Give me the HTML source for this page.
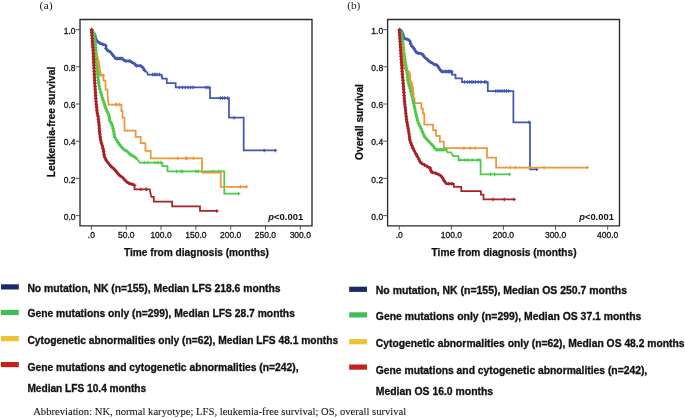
<!DOCTYPE html><html><head><meta charset="utf-8"><style>
html,body{margin:0;padding:0;background:#fff;width:685px;height:418px;overflow:hidden}
svg{display:block;will-change:transform}
.t{font-family:"Liberation Sans",sans-serif}
.s{font-family:"Liberation Serif",serif}
</style></head><body>
<svg width="685" height="418" viewBox="0 0 685 418">
<rect width="685" height="418" fill="#fff"/>
<path d="M80,225.8V19.45H312V225.8Z" fill="none" stroke="#2b2b2b" stroke-width="1.35"/>
<line x1="75.7" y1="215.60" x2="80" y2="215.60" stroke="#444" stroke-width="0.9"/>
<text class="t" x="75.6" y="219.70" font-size="8.5" text-anchor="end" fill="#111" stroke="#111" stroke-width="0.28">0.0</text>
<line x1="75.7" y1="178.40" x2="80" y2="178.40" stroke="#444" stroke-width="0.9"/>
<text class="t" x="75.6" y="182.50" font-size="8.5" text-anchor="end" fill="#111" stroke="#111" stroke-width="0.28">0.2</text>
<line x1="75.7" y1="141.20" x2="80" y2="141.20" stroke="#444" stroke-width="0.9"/>
<text class="t" x="75.6" y="145.30" font-size="8.5" text-anchor="end" fill="#111" stroke="#111" stroke-width="0.28">0.4</text>
<line x1="75.7" y1="104.00" x2="80" y2="104.00" stroke="#444" stroke-width="0.9"/>
<text class="t" x="75.6" y="108.10" font-size="8.5" text-anchor="end" fill="#111" stroke="#111" stroke-width="0.28">0.6</text>
<line x1="75.7" y1="66.80" x2="80" y2="66.80" stroke="#444" stroke-width="0.9"/>
<text class="t" x="75.6" y="70.90" font-size="8.5" text-anchor="end" fill="#111" stroke="#111" stroke-width="0.28">0.8</text>
<line x1="75.7" y1="29.60" x2="80" y2="29.60" stroke="#444" stroke-width="0.9"/>
<text class="t" x="75.6" y="33.70" font-size="8.5" text-anchor="end" fill="#111" stroke="#111" stroke-width="0.28">1.0</text>
<line x1="91.40" y1="225.8" x2="91.40" y2="229.8" stroke="#444" stroke-width="0.9"/>
<text class="t" x="91.40" y="238.0" font-size="8.5" text-anchor="middle" fill="#111" stroke="#111" stroke-width="0.28">.0</text>
<line x1="126.22" y1="225.8" x2="126.22" y2="229.8" stroke="#444" stroke-width="0.9"/>
<text class="t" x="126.22" y="238.0" font-size="8.5" text-anchor="middle" fill="#111" stroke="#111" stroke-width="0.28">50.0</text>
<line x1="161.03" y1="225.8" x2="161.03" y2="229.8" stroke="#444" stroke-width="0.9"/>
<text class="t" x="161.03" y="238.0" font-size="8.5" text-anchor="middle" fill="#111" stroke="#111" stroke-width="0.28">100.0</text>
<line x1="195.85" y1="225.8" x2="195.85" y2="229.8" stroke="#444" stroke-width="0.9"/>
<text class="t" x="195.85" y="238.0" font-size="8.5" text-anchor="middle" fill="#111" stroke="#111" stroke-width="0.28">150.0</text>
<line x1="230.66" y1="225.8" x2="230.66" y2="229.8" stroke="#444" stroke-width="0.9"/>
<text class="t" x="230.66" y="238.0" font-size="8.5" text-anchor="middle" fill="#111" stroke="#111" stroke-width="0.28">200.0</text>
<line x1="265.48" y1="225.8" x2="265.48" y2="229.8" stroke="#444" stroke-width="0.9"/>
<text class="t" x="265.48" y="238.0" font-size="8.5" text-anchor="middle" fill="#111" stroke="#111" stroke-width="0.28">250.0</text>
<line x1="300.29" y1="225.8" x2="300.29" y2="229.8" stroke="#444" stroke-width="0.9"/>
<text class="t" x="300.29" y="238.0" font-size="8.5" text-anchor="middle" fill="#111" stroke="#111" stroke-width="0.28">300.0</text>
<text class="t" x="196.50" y="256" font-size="10.15" font-weight="bold" text-anchor="middle" fill="#111" stroke="#111" stroke-width="0.25">Time from diagnosis (months)</text>
<text class="t" transform="translate(55.3,122) rotate(-90)" x="0" y="0" font-size="10.2" font-weight="bold" text-anchor="middle" fill="#111" stroke="#111" stroke-width="0.25">Leukemia-free survival</text>
<text class="s" x="39.6" y="8.5" font-size="11.2" fill="#222" textLength="13.2" lengthAdjust="spacingAndGlyphs">(a)</text>
<text class="t" x="268.3" y="220.4" font-size="9" font-weight="bold" fill="#111" textLength="35" lengthAdjust="spacingAndGlyphs"><tspan font-style="italic">p</tspan>&lt;0.001</text>
<path d="M91.5,29.5 L92.5,30.5 L93.5,32.5 L94.5,34.5 L95.3,37 L96,39.9 L97.9,41.8 L100.7,43.7 L104.6,44.7 L106,45.7 V48.5 L107.4,50.4 L110.3,51.9 L112.2,54.3 L114.1,56.7 L115.6,58.6 H122.8 L123.7,60 L125.6,61 H130.4 L131.8,62.4 L134.2,63.4 L136.1,65.8 H140.9 L142.8,67.6 L143.8,69.2 L145.4,71.5 L147.3,72.3 L147.7,74.6 H161.6 V76.5 H162.2 V78.5 H166.8 V83 H175.7 V87.4 H210 V98 H229 V117.7 H243.7 V150.4 H276" fill="none" stroke="#4157b5" stroke-width="1.75" stroke-linejoin="miter" stroke-linecap="butt"/>
<path d="M177.55,87.40H181.05M179.30,85.65V89.15" stroke="#4157b5" stroke-width="1.15" fill="none"/>
<path d="M180.65,87.40H184.15M182.40,85.65V89.15" stroke="#4157b5" stroke-width="1.15" fill="none"/>
<path d="M183.45,87.40H186.95M185.20,85.65V89.15" stroke="#4157b5" stroke-width="1.15" fill="none"/>
<path d="M186.25,87.40H189.75M188.00,85.65V89.15" stroke="#4157b5" stroke-width="1.15" fill="none"/>
<path d="M188.75,87.40H192.25M190.50,85.65V89.15" stroke="#4157b5" stroke-width="1.15" fill="none"/>
<path d="M191.35,87.40H194.85M193.10,85.65V89.15" stroke="#4157b5" stroke-width="1.15" fill="none"/>
<path d="M204.25,87.40H207.75M206.00,85.65V89.15" stroke="#4157b5" stroke-width="1.15" fill="none"/>
<path d="M206.35,87.40H209.85M208.10,85.65V89.15" stroke="#4157b5" stroke-width="1.15" fill="none"/>
<path d="M218.55,98.00H222.05M220.30,96.25V99.75" stroke="#4157b5" stroke-width="1.15" fill="none"/>
<path d="M220.75,98.00H224.25M222.50,96.25V99.75" stroke="#4157b5" stroke-width="1.15" fill="none"/>
<path d="M222.85,98.00H226.35M224.60,96.25V99.75" stroke="#4157b5" stroke-width="1.15" fill="none"/>
<path d="M225.75,98.00H229.25M227.50,96.25V99.75" stroke="#4157b5" stroke-width="1.15" fill="none"/>
<path d="M232.35,117.70H235.85M234.10,115.95V119.45" stroke="#4157b5" stroke-width="1.15" fill="none"/>
<path d="M262.45,150.40H265.95M264.20,148.65V152.15" stroke="#4157b5" stroke-width="1.15" fill="none"/>
<path d="M273.55,150.40H277.05M275.30,148.65V152.15" stroke="#4157b5" stroke-width="1.15" fill="none"/>
<path d="M150.85,74.60H154.35M152.60,72.85V76.35" stroke="#4157b5" stroke-width="1.15" fill="none"/>
<path d="M152.45,74.60H155.95M154.20,72.85V76.35" stroke="#4157b5" stroke-width="1.15" fill="none"/>
<path d="M153.95,74.60H157.45M155.70,72.85V76.35" stroke="#4157b5" stroke-width="1.15" fill="none"/>
<path d="M155.45,74.60H158.95M157.20,72.85V76.35" stroke="#4157b5" stroke-width="1.15" fill="none"/>
<path d="M157.75,74.60H161.25M159.50,72.85V76.35" stroke="#4157b5" stroke-width="1.15" fill="none"/>
<path d="M115.25,58.50H118.75M117.00,56.75V60.25" stroke="#4157b5" stroke-width="1.15" fill="none"/>
<path d="M117.75,58.50H121.25M119.50,56.75V60.25" stroke="#4157b5" stroke-width="1.15" fill="none"/>
<path d="M120.25,58.50H123.75M122.00,56.75V60.25" stroke="#4157b5" stroke-width="1.15" fill="none"/>
<path d="M91.5,29.5 L93.6,33 L94.75,36 L95.9,50 L96.3,60 L97.2,70 L98.3,80 L99.5,88 L100.9,93 L103.1,100.2 L106.3,109.5 L109,115.4 L109.8,120.8 L112.3,125 L113.5,130.5 L114.6,136.9 L117.9,142.3 L121.1,146.6 L124.3,149.9 L126.9,151.1 L130.2,154.3 L135.5,157.5 L139.9,162.6 H162.3 V166 H167.5 V171.4 H224.3 V193.5 H239.2" fill="none" stroke="#4fc94a" stroke-width="1.75" stroke-linejoin="miter" stroke-linecap="butt"/>
<path d="M142.55,162.60H146.05M144.30,160.85V164.35" stroke="#4fc94a" stroke-width="1.15" fill="none"/>
<path d="M146.15,162.60H149.65M147.90,160.85V164.35" stroke="#4fc94a" stroke-width="1.15" fill="none"/>
<path d="M153.35,162.60H156.85M155.10,160.85V164.35" stroke="#4fc94a" stroke-width="1.15" fill="none"/>
<path d="M156.25,162.60H159.75M158.00,160.85V164.35" stroke="#4fc94a" stroke-width="1.15" fill="none"/>
<path d="M159.05,162.60H162.55M160.80,160.85V164.35" stroke="#4fc94a" stroke-width="1.15" fill="none"/>
<path d="M174.85,171.40H178.35M176.60,169.65V173.15" stroke="#4fc94a" stroke-width="1.15" fill="none"/>
<path d="M179.15,171.40H182.65M180.90,169.65V173.15" stroke="#4fc94a" stroke-width="1.15" fill="none"/>
<path d="M180.65,171.40H184.15M182.40,169.65V173.15" stroke="#4fc94a" stroke-width="1.15" fill="none"/>
<path d="M194.25,171.40H197.75M196.00,169.65V173.15" stroke="#4fc94a" stroke-width="1.15" fill="none"/>
<path d="M196.45,171.40H199.95M198.20,169.65V173.15" stroke="#4fc94a" stroke-width="1.15" fill="none"/>
<path d="M211.45,171.40H214.95M213.20,169.65V173.15" stroke="#4fc94a" stroke-width="1.15" fill="none"/>
<path d="M217.25,171.40H220.75M219.00,169.65V173.15" stroke="#4fc94a" stroke-width="1.15" fill="none"/>
<path d="M236.85,193.50H240.35M238.60,191.75V195.25" stroke="#4fc94a" stroke-width="1.15" fill="none"/>
<path d="M91.5,29.5 L92.4,36 L93.2,42.3 L93.9,50 L94.4,53.5 L96.4,55 L97.3,58 L97.9,60.5 L98.8,66 L99.6,71 L100.4,75.2 H103.5 V80.5 H105.5 V89.6 H107.6 V94.8 L108.5,104.5 H121.4 V111 H122.5 V117.5 H124.5 V130.5 H135.6 V136.9 H140.7 V143.2 H145.4 V150.9 H150.7 V158.3 H202 V172.6 H220.7 V186.8 H247.0" fill="none" stroke="#eb9838" stroke-width="1.75" stroke-linejoin="miter" stroke-linecap="butt"/>
<path d="M175.85,158.30H179.35M177.60,156.55V160.05" stroke="#eb9838" stroke-width="1.15" fill="none"/>
<path d="M183.95,158.30H187.45M185.70,156.55V160.05" stroke="#eb9838" stroke-width="1.15" fill="none"/>
<path d="M185.35,158.30H188.85M187.10,156.55V160.05" stroke="#eb9838" stroke-width="1.15" fill="none"/>
<path d="M191.65,158.30H195.15M193.40,156.55V160.05" stroke="#eb9838" stroke-width="1.15" fill="none"/>
<path d="M238.65,186.80H242.15M240.40,185.05V188.55" stroke="#eb9838" stroke-width="1.15" fill="none"/>
<path d="M244.75,186.80H248.25M246.50,185.05V188.55" stroke="#eb9838" stroke-width="1.15" fill="none"/>
<path d="M113.75,104.50H117.25M115.50,102.75V106.25" stroke="#eb9838" stroke-width="1.15" fill="none"/>
<path d="M115.25,104.50H118.75M117.00,102.75V106.25" stroke="#eb9838" stroke-width="1.15" fill="none"/>
<path d="M117.55,104.50H121.05M119.30,102.75V106.25" stroke="#eb9838" stroke-width="1.15" fill="none"/>
<path d="M91.4,29 L92,36 L93.1,50 L93.6,60 L94.2,72 L94.6,80 L95.1,88 L96.1,102.3 L97.2,113 L97.9,115.4 L99,124 L99.5,131.5 L100.6,140.2 L102.2,145.5 L103.5,150.5 L104.3,156.5 L106.5,160.8 L108.6,163.5 L110.8,166.2 L114,168.9 L117.2,172.6 L119.4,175.3 L122.6,177.5 L125.9,181.2 L129.1,183.4 L134.5,185 V189.3 H149.8 L150.3,192.3 L150.8,194.6 L151.4,196.9 H153.8 V201.6 H172.1 V206.3 H200 V210.9 H217.4" fill="none" stroke="#a82226" stroke-width="1.75" stroke-linejoin="miter" stroke-linecap="butt"/>
<path d="M139.15,189.30H142.65M140.90,187.55V191.05" stroke="#a82226" stroke-width="1.15" fill="none"/>
<path d="M144.55,189.30H148.05M146.30,187.55V191.05" stroke="#a82226" stroke-width="1.15" fill="none"/>
<path d="M215.05,210.90H218.55M216.80,209.15V212.65" stroke="#a82226" stroke-width="1.15" fill="none"/>
<path d="M91.50,29.50 L92.50,30.50 L93.50,32.50 L94.50,34.50 L95.30,37.00 L96.00,39.90 L97.90,41.80 L100.70,43.70 L104.60,44.70 L106.00,45.70 L106.00,48.50 L107.40,50.40 L110.30,51.90 L112.20,54.30 L114.10,56.70 L115.60,58.60 L122.80,58.60 L123.70,60.00 L125.60,61.00 L130.40,61.00 L131.80,62.40 L134.20,63.40 L136.10,65.80 L140.90,65.80 L142.80,67.60 L143.80,69.20 L145.40,71.50" fill="none" stroke="#4157b5" stroke-width="2.6" stroke-linejoin="round"/>
<path d="M91.50,29.50 L92.40,36.00 L93.20,42.30 L93.90,50.00 L94.40,53.50 L96.40,55.00 L97.30,58.00 L97.90,60.50 L98.80,66.00 L99.60,71.00 L100.40,75.20 L103.50,75.20" fill="none" stroke="#eb9838" stroke-width="2.6" stroke-linejoin="round"/>
<path d="M91.50,29.50 L93.60,33.00 L94.75,36.00 L95.90,50.00 L96.30,60.00 L97.20,70.00 L98.30,80.00 L99.50,88.00 L100.90,93.00 L103.10,100.20 L106.30,109.50 L109.00,115.40 L109.80,120.80 L112.30,125.00 L113.50,130.50 L114.60,136.90 L117.90,142.30 L121.10,146.60 L124.30,149.90 L126.90,151.10 L130.20,154.30 L135.50,157.50" fill="none" stroke="#4fc94a" stroke-width="2.6" stroke-linejoin="round"/>
<path d="M90.10,29.85H93.60M91.85,28.10V31.60" stroke="#4157b5" stroke-width="1.15" fill="none"/>
<path d="M91.77,32.54H95.27M93.52,30.79V34.29" stroke="#4157b5" stroke-width="1.15" fill="none"/>
<path d="M93.06,35.47H96.56M94.81,33.72V37.22" stroke="#4157b5" stroke-width="1.15" fill="none"/>
<path d="M93.92,38.54H97.42M95.67,36.79V40.29" stroke="#4157b5" stroke-width="1.15" fill="none"/>
<path d="M95.53,41.18H99.03M97.28,39.43V42.93" stroke="#4157b5" stroke-width="1.15" fill="none"/>
<path d="M98.07,43.10H101.57M99.82,41.35V44.85" stroke="#4157b5" stroke-width="1.15" fill="none"/>
<path d="M101.02,44.23H104.52M102.77,42.48V45.98" stroke="#4157b5" stroke-width="1.15" fill="none"/>
<path d="M103.91,45.46H107.41M105.66,43.71V47.21" stroke="#4157b5" stroke-width="1.15" fill="none"/>
<path d="M104.25,48.49H107.75M106.00,46.74V50.24" stroke="#4157b5" stroke-width="1.15" fill="none"/>
<path d="M106.39,50.78H109.89M108.14,49.03V52.53" stroke="#4157b5" stroke-width="1.15" fill="none"/>
<path d="M109.02,52.50H112.52M110.77,50.75V54.25" stroke="#4157b5" stroke-width="1.15" fill="none"/>
<path d="M111.01,55.01H114.51M112.76,53.26V56.76" stroke="#4157b5" stroke-width="1.15" fill="none"/>
<path d="M113.00,57.52H116.50M114.75,55.77V59.27" stroke="#4157b5" stroke-width="1.15" fill="none"/>
<path d="M115.67,58.60H119.17M117.42,56.85V60.35" stroke="#4157b5" stroke-width="1.15" fill="none"/>
<path d="M118.87,58.60H122.37M120.62,56.85V60.35" stroke="#4157b5" stroke-width="1.15" fill="none"/>
<path d="M121.60,59.46H125.10M123.35,57.71V61.21" stroke="#4157b5" stroke-width="1.15" fill="none"/>
<path d="M124.26,61.00H127.76M126.01,59.25V62.75" stroke="#4157b5" stroke-width="1.15" fill="none"/>
<path d="M127.46,61.00H130.96M129.21,59.25V62.75" stroke="#4157b5" stroke-width="1.15" fill="none"/>
<path d="M130.08,62.41H133.58M131.83,60.66V64.16" stroke="#4157b5" stroke-width="1.15" fill="none"/>
<path d="M132.84,63.89H136.34M134.59,62.14V65.64" stroke="#4157b5" stroke-width="1.15" fill="none"/>
<path d="M135.12,65.80H138.62M136.87,64.05V67.55" stroke="#4157b5" stroke-width="1.15" fill="none"/>
<path d="M138.32,65.80H141.82M140.07,64.05V67.55" stroke="#4157b5" stroke-width="1.15" fill="none"/>
<path d="M140.87,67.43H144.37M142.62,65.68V69.18" stroke="#4157b5" stroke-width="1.15" fill="none"/>
<path d="M142.66,70.07H146.16M144.41,68.32V71.82" stroke="#4157b5" stroke-width="1.15" fill="none"/>
<path d="M90.01,29.93H93.51M91.76,28.18V31.68" stroke="#4fc94a" stroke-width="1.15" fill="none"/>
<path d="M91.55,32.50H95.05M93.30,30.75V34.25" stroke="#4fc94a" stroke-width="1.15" fill="none"/>
<path d="M92.72,35.26H96.22M94.47,33.51V37.01" stroke="#4fc94a" stroke-width="1.15" fill="none"/>
<path d="M93.18,38.20H96.68M94.93,36.45V39.95" stroke="#4fc94a" stroke-width="1.15" fill="none"/>
<path d="M93.43,41.19H96.93M95.18,39.44V42.94" stroke="#4fc94a" stroke-width="1.15" fill="none"/>
<path d="M93.67,44.18H97.17M95.42,42.43V45.93" stroke="#4fc94a" stroke-width="1.15" fill="none"/>
<path d="M93.92,47.17H97.42M95.67,45.42V48.92" stroke="#4fc94a" stroke-width="1.15" fill="none"/>
<path d="M94.16,50.16H97.66M95.91,48.41V51.91" stroke="#4fc94a" stroke-width="1.15" fill="none"/>
<path d="M94.28,53.16H97.78M96.03,51.41V54.91" stroke="#4fc94a" stroke-width="1.15" fill="none"/>
<path d="M94.40,56.15H97.90M96.15,54.40V57.90" stroke="#4fc94a" stroke-width="1.15" fill="none"/>
<path d="M94.52,59.15H98.02M96.27,57.40V60.90" stroke="#4fc94a" stroke-width="1.15" fill="none"/>
<path d="M94.74,62.14H98.24M96.49,60.39V63.89" stroke="#4fc94a" stroke-width="1.15" fill="none"/>
<path d="M95.01,65.13H98.51M96.76,63.38V66.88" stroke="#4fc94a" stroke-width="1.15" fill="none"/>
<path d="M95.28,68.12H98.78M97.03,66.37V69.87" stroke="#4fc94a" stroke-width="1.15" fill="none"/>
<path d="M95.57,71.10H99.07M97.32,69.35V72.85" stroke="#4fc94a" stroke-width="1.15" fill="none"/>
<path d="M95.90,74.09H99.40M97.65,72.34V75.84" stroke="#4fc94a" stroke-width="1.15" fill="none"/>
<path d="M96.23,77.07H99.73M97.98,75.32V78.82" stroke="#4fc94a" stroke-width="1.15" fill="none"/>
<path d="M96.56,80.05H100.06M98.31,78.30V81.80" stroke="#4fc94a" stroke-width="1.15" fill="none"/>
<path d="M97.00,83.02H100.50M98.75,81.27V84.77" stroke="#4fc94a" stroke-width="1.15" fill="none"/>
<path d="M97.45,85.98H100.95M99.20,84.23V87.73" stroke="#4fc94a" stroke-width="1.15" fill="none"/>
<path d="M98.01,88.92H101.51M99.76,87.17V90.67" stroke="#4fc94a" stroke-width="1.15" fill="none"/>
<path d="M98.82,91.81H102.32M100.57,90.06V93.56" stroke="#4fc94a" stroke-width="1.15" fill="none"/>
<path d="M99.67,94.69H103.17M101.42,92.94V96.44" stroke="#4fc94a" stroke-width="1.15" fill="none"/>
<path d="M100.54,97.56H104.04M102.29,95.81V99.31" stroke="#4fc94a" stroke-width="1.15" fill="none"/>
<path d="M101.43,100.43H104.93M103.18,98.68V102.18" stroke="#4fc94a" stroke-width="1.15" fill="none"/>
<path d="M102.40,103.26H105.90M104.15,101.51V105.01" stroke="#4fc94a" stroke-width="1.15" fill="none"/>
<path d="M103.38,106.10H106.88M105.13,104.35V107.85" stroke="#4fc94a" stroke-width="1.15" fill="none"/>
<path d="M104.36,108.94H107.86M106.11,107.19V110.69" stroke="#4fc94a" stroke-width="1.15" fill="none"/>
<path d="M105.55,111.69H109.05M107.30,109.94V113.44" stroke="#4fc94a" stroke-width="1.15" fill="none"/>
<path d="M106.80,114.41H110.30M108.55,112.66V116.16" stroke="#4fc94a" stroke-width="1.15" fill="none"/>
<path d="M107.53,117.29H111.03M109.28,115.54V119.04" stroke="#4fc94a" stroke-width="1.15" fill="none"/>
<path d="M107.97,120.26H111.47M109.72,118.51V122.01" stroke="#4fc94a" stroke-width="1.15" fill="none"/>
<path d="M109.31,122.91H112.81M111.06,121.16V124.66" stroke="#4fc94a" stroke-width="1.15" fill="none"/>
<path d="M110.67,125.56H114.17M112.42,123.81V127.31" stroke="#4fc94a" stroke-width="1.15" fill="none"/>
<path d="M111.31,128.49H114.81M113.06,126.74V130.24" stroke="#4fc94a" stroke-width="1.15" fill="none"/>
<path d="M111.91,131.43H115.41M113.66,129.68V133.18" stroke="#4fc94a" stroke-width="1.15" fill="none"/>
<path d="M112.42,134.38H115.92M114.17,132.63V136.13" stroke="#4fc94a" stroke-width="1.15" fill="none"/>
<path d="M113.08,137.28H116.58M114.83,135.53V139.03" stroke="#4fc94a" stroke-width="1.15" fill="none"/>
<path d="M114.65,139.84H118.15M116.40,138.09V141.59" stroke="#4fc94a" stroke-width="1.15" fill="none"/>
<path d="M116.22,142.39H119.72M117.97,140.64V144.14" stroke="#4fc94a" stroke-width="1.15" fill="none"/>
<path d="M118.01,144.80H121.51M119.76,143.05V146.55" stroke="#4fc94a" stroke-width="1.15" fill="none"/>
<path d="M119.88,147.14H123.38M121.63,145.39V148.89" stroke="#4fc94a" stroke-width="1.15" fill="none"/>
<path d="M121.97,149.30H125.47M123.72,147.55V151.05" stroke="#4fc94a" stroke-width="1.15" fill="none"/>
<path d="M124.51,150.81H128.01M126.26,149.06V152.56" stroke="#4fc94a" stroke-width="1.15" fill="none"/>
<path d="M126.80,152.70H130.30M128.55,150.95V154.45" stroke="#4fc94a" stroke-width="1.15" fill="none"/>
<path d="M129.05,154.66H132.55M130.80,152.91V156.41" stroke="#4fc94a" stroke-width="1.15" fill="none"/>
<path d="M131.62,156.21H135.12M133.37,154.46V157.96" stroke="#4fc94a" stroke-width="1.15" fill="none"/>
<path d="M134.08,157.89H137.58M135.83,156.14V159.64" stroke="#4fc94a" stroke-width="1.15" fill="none"/>
<path d="M89.82,30.00H93.32M91.57,28.25V31.75" stroke="#eb9838" stroke-width="1.15" fill="none"/>
<path d="M90.57,35.44H94.07M92.32,33.69V37.19" stroke="#eb9838" stroke-width="1.15" fill="none"/>
<path d="M91.27,40.90H94.77M93.02,39.15V42.65" stroke="#eb9838" stroke-width="1.15" fill="none"/>
<path d="M91.82,46.37H95.32M93.57,44.62V48.12" stroke="#eb9838" stroke-width="1.15" fill="none"/>
<path d="M92.41,51.84H95.91M94.16,50.09V53.59" stroke="#eb9838" stroke-width="1.15" fill="none"/>
<path d="M95.03,56.26H98.53M96.78,54.51V58.01" stroke="#eb9838" stroke-width="1.15" fill="none"/>
<path d="M96.33,61.60H99.83M98.08,59.85V63.35" stroke="#eb9838" stroke-width="1.15" fill="none"/>
<path d="M97.21,67.03H100.71M98.96,65.28V68.78" stroke="#eb9838" stroke-width="1.15" fill="none"/>
<path d="M98.13,72.45H101.63M99.88,70.70V74.20" stroke="#eb9838" stroke-width="1.15" fill="none"/>
<path d="M101.35,75.20H104.85M103.10,73.45V76.95" stroke="#eb9838" stroke-width="1.15" fill="none"/>
<path d="M91.40,29.00 L92.00,36.00 L93.10,50.00 L93.60,60.00 L94.20,72.00 L94.60,80.00 L95.10,88.00 L96.10,102.30 L97.20,113.00 L97.90,115.40 L99.00,124.00 L99.50,131.50 L100.60,140.20 L102.20,145.50 L103.50,150.50 L104.30,156.50 L106.50,160.80 L108.60,163.50 L110.80,166.20 L114.00,168.90 L117.20,172.60 L119.40,175.30 L122.60,177.50 L125.90,181.20 L129.10,183.40 L134.50,185.00" fill="none" stroke="#a82226" stroke-width="2.6" stroke-linejoin="round"/>
<path d="M89.69,29.50H93.19M91.44,27.75V31.25" stroke="#a82226" stroke-width="1.15" fill="none"/>
<path d="M89.95,32.49H93.45M91.70,30.74V34.24" stroke="#a82226" stroke-width="1.15" fill="none"/>
<path d="M90.21,35.48H93.71M91.96,33.73V37.23" stroke="#a82226" stroke-width="1.15" fill="none"/>
<path d="M90.44,38.47H93.94M92.19,36.72V40.22" stroke="#a82226" stroke-width="1.15" fill="none"/>
<path d="M90.68,41.46H94.18M92.43,39.71V43.21" stroke="#a82226" stroke-width="1.15" fill="none"/>
<path d="M90.91,44.45H94.41M92.66,42.70V46.20" stroke="#a82226" stroke-width="1.15" fill="none"/>
<path d="M91.15,47.44H94.65M92.90,45.69V49.19" stroke="#a82226" stroke-width="1.15" fill="none"/>
<path d="M91.37,50.43H94.87M93.12,48.68V52.18" stroke="#a82226" stroke-width="1.15" fill="none"/>
<path d="M91.52,53.43H95.02M93.27,51.68V55.18" stroke="#a82226" stroke-width="1.15" fill="none"/>
<path d="M91.67,56.42H95.17M93.42,54.67V58.17" stroke="#a82226" stroke-width="1.15" fill="none"/>
<path d="M91.82,59.42H95.32M93.57,57.67V61.17" stroke="#a82226" stroke-width="1.15" fill="none"/>
<path d="M91.97,62.42H95.47M93.72,60.67V64.17" stroke="#a82226" stroke-width="1.15" fill="none"/>
<path d="M92.12,65.41H95.62M93.87,63.66V67.16" stroke="#a82226" stroke-width="1.15" fill="none"/>
<path d="M92.27,68.41H95.77M94.02,66.66V70.16" stroke="#a82226" stroke-width="1.15" fill="none"/>
<path d="M92.42,71.40H95.92M94.17,69.65V73.15" stroke="#a82226" stroke-width="1.15" fill="none"/>
<path d="M92.57,74.40H96.07M94.32,72.65V76.15" stroke="#a82226" stroke-width="1.15" fill="none"/>
<path d="M92.72,77.40H96.22M94.47,75.65V79.15" stroke="#a82226" stroke-width="1.15" fill="none"/>
<path d="M92.87,80.39H96.37M94.62,78.64V82.14" stroke="#a82226" stroke-width="1.15" fill="none"/>
<path d="M93.06,83.39H96.56M94.81,81.64V85.14" stroke="#a82226" stroke-width="1.15" fill="none"/>
<path d="M93.25,86.38H96.75M95.00,84.63V88.13" stroke="#a82226" stroke-width="1.15" fill="none"/>
<path d="M93.45,89.37H96.95M95.20,87.62V91.12" stroke="#a82226" stroke-width="1.15" fill="none"/>
<path d="M93.66,92.37H97.16M95.41,90.62V94.12" stroke="#a82226" stroke-width="1.15" fill="none"/>
<path d="M93.86,95.36H97.36M95.61,93.61V97.11" stroke="#a82226" stroke-width="1.15" fill="none"/>
<path d="M94.07,98.35H97.57M95.82,96.60V100.10" stroke="#a82226" stroke-width="1.15" fill="none"/>
<path d="M94.28,101.35H97.78M96.03,99.60V103.10" stroke="#a82226" stroke-width="1.15" fill="none"/>
<path d="M94.56,104.33H98.06M96.31,102.58V106.08" stroke="#a82226" stroke-width="1.15" fill="none"/>
<path d="M94.87,107.32H98.37M96.62,105.57V109.07" stroke="#a82226" stroke-width="1.15" fill="none"/>
<path d="M95.17,110.30H98.67M96.92,108.55V112.05" stroke="#a82226" stroke-width="1.15" fill="none"/>
<path d="M95.53,113.28H99.03M97.28,111.53V115.03" stroke="#a82226" stroke-width="1.15" fill="none"/>
<path d="M96.25,116.18H99.75M98.00,114.43V117.93" stroke="#a82226" stroke-width="1.15" fill="none"/>
<path d="M96.63,119.16H100.13M98.38,117.41V120.91" stroke="#a82226" stroke-width="1.15" fill="none"/>
<path d="M97.01,122.13H100.51M98.76,120.38V123.88" stroke="#a82226" stroke-width="1.15" fill="none"/>
<path d="M97.32,125.11H100.82M99.07,123.36V126.86" stroke="#a82226" stroke-width="1.15" fill="none"/>
<path d="M97.52,128.11H101.02M99.27,126.36V129.86" stroke="#a82226" stroke-width="1.15" fill="none"/>
<path d="M97.72,131.10H101.22M99.47,129.35V132.85" stroke="#a82226" stroke-width="1.15" fill="none"/>
<path d="M98.08,134.08H101.58M99.83,132.33V135.83" stroke="#a82226" stroke-width="1.15" fill="none"/>
<path d="M98.45,137.06H101.95M100.20,135.31V138.81" stroke="#a82226" stroke-width="1.15" fill="none"/>
<path d="M98.83,140.03H102.33M100.58,138.28V141.78" stroke="#a82226" stroke-width="1.15" fill="none"/>
<path d="M99.67,142.91H103.17M101.42,141.16V144.66" stroke="#a82226" stroke-width="1.15" fill="none"/>
<path d="M100.52,145.79H104.02M102.27,144.04V147.54" stroke="#a82226" stroke-width="1.15" fill="none"/>
<path d="M101.28,148.69H104.78M103.03,146.94V150.44" stroke="#a82226" stroke-width="1.15" fill="none"/>
<path d="M101.90,151.62H105.40M103.65,149.87V153.37" stroke="#a82226" stroke-width="1.15" fill="none"/>
<path d="M102.30,154.59H105.80M104.05,152.84V156.34" stroke="#a82226" stroke-width="1.15" fill="none"/>
<path d="M103.04,157.46H106.54M104.79,155.71V159.21" stroke="#a82226" stroke-width="1.15" fill="none"/>
<path d="M104.41,160.13H107.91M106.16,158.38V161.88" stroke="#a82226" stroke-width="1.15" fill="none"/>
<path d="M106.13,162.57H109.63M107.88,160.82V164.32" stroke="#a82226" stroke-width="1.15" fill="none"/>
<path d="M108.00,164.91H111.50M109.75,163.16V166.66" stroke="#a82226" stroke-width="1.15" fill="none"/>
<path d="M110.08,167.07H113.58M111.83,165.32V168.82" stroke="#a82226" stroke-width="1.15" fill="none"/>
<path d="M112.35,169.02H115.85M114.10,167.27V170.77" stroke="#a82226" stroke-width="1.15" fill="none"/>
<path d="M114.31,171.29H117.81M116.06,169.54V173.04" stroke="#a82226" stroke-width="1.15" fill="none"/>
<path d="M116.25,173.58H119.75M118.00,171.83V175.33" stroke="#a82226" stroke-width="1.15" fill="none"/>
<path d="M118.29,175.74H121.79M120.04,173.99V177.49" stroke="#a82226" stroke-width="1.15" fill="none"/>
<path d="M120.77,177.44H124.27M122.52,175.69V179.19" stroke="#a82226" stroke-width="1.15" fill="none"/>
<path d="M122.78,179.66H126.28M124.53,177.91V181.41" stroke="#a82226" stroke-width="1.15" fill="none"/>
<path d="M124.92,181.73H128.42M126.67,179.98V183.48" stroke="#a82226" stroke-width="1.15" fill="none"/>
<path d="M127.40,183.42H130.90M129.15,181.67V185.17" stroke="#a82226" stroke-width="1.15" fill="none"/>
<path d="M130.28,184.27H133.78M132.03,182.52V186.02" stroke="#a82226" stroke-width="1.15" fill="none"/>
<path d="M132.75,185.42H136.25M134.50,183.67V187.17" stroke="#a82226" stroke-width="1.15" fill="none"/>
<path d="M387.6,225.8V19.45H619.5V225.8Z" fill="none" stroke="#2b2b2b" stroke-width="1.35"/>
<line x1="383.3" y1="215.60" x2="387.6" y2="215.60" stroke="#444" stroke-width="0.9"/>
<text class="t" x="383.20000000000005" y="219.70" font-size="8.5" text-anchor="end" fill="#111" stroke="#111" stroke-width="0.28">0.0</text>
<line x1="383.3" y1="178.40" x2="387.6" y2="178.40" stroke="#444" stroke-width="0.9"/>
<text class="t" x="383.20000000000005" y="182.50" font-size="8.5" text-anchor="end" fill="#111" stroke="#111" stroke-width="0.28">0.2</text>
<line x1="383.3" y1="141.20" x2="387.6" y2="141.20" stroke="#444" stroke-width="0.9"/>
<text class="t" x="383.20000000000005" y="145.30" font-size="8.5" text-anchor="end" fill="#111" stroke="#111" stroke-width="0.28">0.4</text>
<line x1="383.3" y1="104.00" x2="387.6" y2="104.00" stroke="#444" stroke-width="0.9"/>
<text class="t" x="383.20000000000005" y="108.10" font-size="8.5" text-anchor="end" fill="#111" stroke="#111" stroke-width="0.28">0.6</text>
<line x1="383.3" y1="66.80" x2="387.6" y2="66.80" stroke="#444" stroke-width="0.9"/>
<text class="t" x="383.20000000000005" y="70.90" font-size="8.5" text-anchor="end" fill="#111" stroke="#111" stroke-width="0.28">0.8</text>
<line x1="383.3" y1="29.60" x2="387.6" y2="29.60" stroke="#444" stroke-width="0.9"/>
<text class="t" x="383.20000000000005" y="33.70" font-size="8.5" text-anchor="end" fill="#111" stroke="#111" stroke-width="0.28">1.0</text>
<line x1="399.25" y1="225.8" x2="399.25" y2="229.8" stroke="#444" stroke-width="0.9"/>
<text class="t" x="399.25" y="238.0" font-size="8.5" text-anchor="middle" fill="#111" stroke="#111" stroke-width="0.28">.0</text>
<line x1="451.35" y1="225.8" x2="451.35" y2="229.8" stroke="#444" stroke-width="0.9"/>
<text class="t" x="451.35" y="238.0" font-size="8.5" text-anchor="middle" fill="#111" stroke="#111" stroke-width="0.28">100.0</text>
<line x1="503.45" y1="225.8" x2="503.45" y2="229.8" stroke="#444" stroke-width="0.9"/>
<text class="t" x="503.45" y="238.0" font-size="8.5" text-anchor="middle" fill="#111" stroke="#111" stroke-width="0.28">200.0</text>
<line x1="555.55" y1="225.8" x2="555.55" y2="229.8" stroke="#444" stroke-width="0.9"/>
<text class="t" x="555.55" y="238.0" font-size="8.5" text-anchor="middle" fill="#111" stroke="#111" stroke-width="0.28">300.0</text>
<line x1="607.65" y1="225.8" x2="607.65" y2="229.8" stroke="#444" stroke-width="0.9"/>
<text class="t" x="607.65" y="238.0" font-size="8.5" text-anchor="middle" fill="#111" stroke="#111" stroke-width="0.28">400.0</text>
<text class="t" x="504.05" y="256" font-size="10.15" font-weight="bold" text-anchor="middle" fill="#111" stroke="#111" stroke-width="0.25">Time from diagnosis (months)</text>
<text class="t" transform="translate(363,122) rotate(-90)" x="0" y="0" font-size="10.2" font-weight="bold" text-anchor="middle" fill="#111" stroke="#111" stroke-width="0.25">Overall survival</text>
<text class="s" x="347.2" y="8.5" font-size="11.2" fill="#222" textLength="13.2" lengthAdjust="spacingAndGlyphs">(b)</text>
<text class="t" x="579.1999999999999" y="220.4" font-size="9" font-weight="bold" fill="#111" textLength="34.7" lengthAdjust="spacingAndGlyphs"><tspan font-style="italic">p</tspan>&lt;0.001</text>
<path d="M399.3,29.5 L401.2,30.6 L403,34.8 L404.2,38.3 L406,38.9 L408.3,39.5 L410.1,41.3 L410.7,44.3 L411.9,46.1 L413.7,47.9 L414.9,50.3 L416.7,52.7 L418,53.3 H420.3 L422.9,54.4 L424.3,57.2 L426.5,58.7 L429.3,61.5 L432.2,63 L434.4,64.4 L437.2,65.1 L439.4,68.7 L441.5,71.6 H451.8 V74.5 H455.5 V78.3 H462 V82.1 H487.8 V91 H513.4 V122.3 H530 V169.3 H537.2" fill="none" stroke="#4157b5" stroke-width="1.75" stroke-linejoin="miter" stroke-linecap="butt"/>
<path d="M443.35,71.60H446.85M445.10,69.85V73.35" stroke="#4157b5" stroke-width="1.15" fill="none"/>
<path d="M446.25,71.60H449.75M448.00,69.85V73.35" stroke="#4157b5" stroke-width="1.15" fill="none"/>
<path d="M447.65,71.60H451.15M449.40,69.85V73.35" stroke="#4157b5" stroke-width="1.15" fill="none"/>
<path d="M449.15,71.60H452.65M450.90,69.85V73.35" stroke="#4157b5" stroke-width="1.15" fill="none"/>
<path d="M462.75,82.10H466.25M464.50,80.35V83.85" stroke="#4157b5" stroke-width="1.15" fill="none"/>
<path d="M465.65,82.10H469.15M467.40,80.35V83.85" stroke="#4157b5" stroke-width="1.15" fill="none"/>
<path d="M467.85,82.10H471.35M469.60,80.35V83.85" stroke="#4157b5" stroke-width="1.15" fill="none"/>
<path d="M469.95,82.10H473.45M471.70,80.35V83.85" stroke="#4157b5" stroke-width="1.15" fill="none"/>
<path d="M471.35,82.10H474.85M473.10,80.35V83.85" stroke="#4157b5" stroke-width="1.15" fill="none"/>
<path d="M473.55,82.10H477.05M475.30,80.35V83.85" stroke="#4157b5" stroke-width="1.15" fill="none"/>
<path d="M476.45,82.10H479.95M478.20,80.35V83.85" stroke="#4157b5" stroke-width="1.15" fill="none"/>
<path d="M479.25,82.10H482.75M481.00,80.35V83.85" stroke="#4157b5" stroke-width="1.15" fill="none"/>
<path d="M482.85,82.10H486.35M484.60,80.35V83.85" stroke="#4157b5" stroke-width="1.15" fill="none"/>
<path d="M484.35,82.10H487.85M486.10,80.35V83.85" stroke="#4157b5" stroke-width="1.15" fill="none"/>
<path d="M493.95,91.00H497.45M495.70,89.25V92.75" stroke="#4157b5" stroke-width="1.15" fill="none"/>
<path d="M496.15,91.00H499.65M497.90,89.25V92.75" stroke="#4157b5" stroke-width="1.15" fill="none"/>
<path d="M498.25,91.00H501.75M500.00,89.25V92.75" stroke="#4157b5" stroke-width="1.15" fill="none"/>
<path d="M500.45,91.00H503.95M502.20,89.25V92.75" stroke="#4157b5" stroke-width="1.15" fill="none"/>
<path d="M502.65,91.00H506.15M504.40,89.25V92.75" stroke="#4157b5" stroke-width="1.15" fill="none"/>
<path d="M504.75,91.00H508.25M506.50,89.25V92.75" stroke="#4157b5" stroke-width="1.15" fill="none"/>
<path d="M506.95,91.00H510.45M508.70,89.25V92.75" stroke="#4157b5" stroke-width="1.15" fill="none"/>
<path d="M527.25,122.30H530.75M529.00,120.55V124.05" stroke="#4157b5" stroke-width="1.15" fill="none"/>
<path d="M534.85,169.30H538.35M536.60,167.55V171.05" stroke="#4157b5" stroke-width="1.15" fill="none"/>
<path d="M399.3,29.5 L400.8,31 L402.2,36 L403,44 L403.6,50 L404.3,56 L404.9,60 L406,66 L406.6,70 L407.2,74 L407.9,80.8 L410,88.3 L412.2,96.9 L414,104.8 L415.8,113.4 L418,122.2 L421.5,129.4 L424.4,136.6 L428.7,141.4 L433,145.8 L435.9,149.7 H446 L447.4,152.4 H451 L453.1,156 H458.5 V160 H480.6 V174.3 H510" fill="none" stroke="#4fc94a" stroke-width="1.75" stroke-linejoin="miter" stroke-linecap="butt"/>
<path d="M435.55,149.70H439.05M437.30,147.95V151.45" stroke="#4fc94a" stroke-width="1.15" fill="none"/>
<path d="M437.75,149.70H441.25M439.50,147.95V151.45" stroke="#4fc94a" stroke-width="1.15" fill="none"/>
<path d="M439.95,149.70H443.45M441.70,147.95V151.45" stroke="#4fc94a" stroke-width="1.15" fill="none"/>
<path d="M442.05,149.70H445.55M443.80,147.95V151.45" stroke="#4fc94a" stroke-width="1.15" fill="none"/>
<path d="M458.55,160.00H462.05M460.30,158.25V161.75" stroke="#4fc94a" stroke-width="1.15" fill="none"/>
<path d="M463.25,160.00H466.75M465.00,158.25V161.75" stroke="#4fc94a" stroke-width="1.15" fill="none"/>
<path d="M466.25,160.00H469.75M468.00,158.25V161.75" stroke="#4fc94a" stroke-width="1.15" fill="none"/>
<path d="M470.25,160.00H473.75M472.00,158.25V161.75" stroke="#4fc94a" stroke-width="1.15" fill="none"/>
<path d="M475.75,160.00H479.25M477.50,158.25V161.75" stroke="#4fc94a" stroke-width="1.15" fill="none"/>
<path d="M477.95,160.00H481.45M479.70,158.25V161.75" stroke="#4fc94a" stroke-width="1.15" fill="none"/>
<path d="M488.75,174.30H492.25M490.50,172.55V176.05" stroke="#4fc94a" stroke-width="1.15" fill="none"/>
<path d="M492.85,174.30H496.35M494.60,172.55V176.05" stroke="#4fc94a" stroke-width="1.15" fill="none"/>
<path d="M507.65,174.30H511.15M509.40,172.55V176.05" stroke="#4fc94a" stroke-width="1.15" fill="none"/>
<path d="M399.3,29.5 L400.4,36 L401.2,42.3 L402.5,45.8 L403,49.2 L403.2,53.4 L403.4,60 L403.7,64.5 L405,68.3 L406.5,70.5 L408.6,72 L409.3,74 L410,80.8 L411.6,84 L412.7,89.4 L413.2,98 L414.4,99.1 L414.8,103.2 H421.3 V108.5 H422.9 V113.6 H424.3 V124.7 H433.1 V130.1 H436 V135.9 H439.8 V141.6 H443.9 V148.2 H487 V157.6 H496.1 V167.5 H587.8" fill="none" stroke="#eb9838" stroke-width="1.75" stroke-linejoin="miter" stroke-linecap="butt"/>
<path d="M462.15,148.20H465.65M463.90,146.45V149.95" stroke="#eb9838" stroke-width="1.15" fill="none"/>
<path d="M468.65,148.20H472.15M470.40,146.45V149.95" stroke="#eb9838" stroke-width="1.15" fill="none"/>
<path d="M473.65,148.20H477.15M475.40,146.45V149.95" stroke="#eb9838" stroke-width="1.15" fill="none"/>
<path d="M508.65,167.50H512.15M510.40,165.75V169.25" stroke="#eb9838" stroke-width="1.15" fill="none"/>
<path d="M513.75,167.50H517.25M515.50,165.75V169.25" stroke="#eb9838" stroke-width="1.15" fill="none"/>
<path d="M527.35,167.50H530.85M529.10,165.75V169.25" stroke="#eb9838" stroke-width="1.15" fill="none"/>
<path d="M542.45,167.50H545.95M544.20,165.75V169.25" stroke="#eb9838" stroke-width="1.15" fill="none"/>
<path d="M585.45,167.50H588.95M587.20,165.75V169.25" stroke="#eb9838" stroke-width="1.15" fill="none"/>
<path d="M399.3,29 L399.7,36 L400.5,48 L401.3,60 L401.8,66 L402.3,74 L403,80.8 L403.8,91.5 L404.6,102.3 L405.5,110 L406.5,119.4 L408.6,130.9 L410,140.9 L412.9,148.1 L416,154 L418,157.5 L420.7,162.9 L423.6,164.4 L427.2,166.5 L430.1,168 L431.5,172.3 L435.1,173 L440.1,175.1 L442.3,177.3 L443.7,180.2 L446.6,183.8 H453.8 V186.8 H461.3 V191 H480.9 V194.6 H483.5 V199.4 H514.6" fill="none" stroke="#a82226" stroke-width="1.75" stroke-linejoin="miter" stroke-linecap="butt"/>
<path d="M491.25,199.40H494.75M493.00,197.65V201.15" stroke="#a82226" stroke-width="1.15" fill="none"/>
<path d="M502.55,199.40H506.05M504.30,197.65V201.15" stroke="#a82226" stroke-width="1.15" fill="none"/>
<path d="M512.25,199.40H515.75M514.00,197.65V201.15" stroke="#a82226" stroke-width="1.15" fill="none"/>
<path d="M399.30,29.50 L401.20,30.60 L403.00,34.80 L404.20,38.30 L406.00,38.90 L408.30,39.50 L410.10,41.30 L410.70,44.30 L411.90,46.10 L413.70,47.90 L414.90,50.30 L416.70,52.70 L418.00,53.30 L420.30,53.30 L422.90,54.40 L424.30,57.20 L426.50,58.70 L429.30,61.50 L432.20,63.00 L434.40,64.40 L437.20,65.10 L439.40,68.70 L441.50,71.60 L451.80,71.60" fill="none" stroke="#4157b5" stroke-width="2.6" stroke-linejoin="round"/>
<path d="M399.30,29.50 L400.40,36.00 L401.20,42.30 L402.50,45.80 L403.00,49.20 L403.20,53.40 L403.40,60.00 L403.70,64.50 L405.00,68.30 L406.50,70.50 L408.60,72.00 L409.30,74.00 L410.00,80.80 L411.60,84.00 L412.70,89.40 L413.20,98.00 L414.40,99.10" fill="none" stroke="#eb9838" stroke-width="2.6" stroke-linejoin="round"/>
<path d="M399.30,29.50 L400.80,31.00 L402.20,36.00 L403.00,44.00 L403.60,50.00 L404.30,56.00 L404.90,60.00 L406.00,66.00 L406.60,70.00 L407.20,74.00 L407.90,80.80 L410.00,88.30 L412.20,96.90 L414.00,104.80 L415.80,113.40 L418.00,122.20 L421.50,129.40 L424.40,136.60 L428.70,141.40 L433.00,145.80 L435.90,149.70 L446.00,149.70" fill="none" stroke="#4fc94a" stroke-width="2.6" stroke-linejoin="round"/>
<path d="M397.98,29.75H401.48M399.73,28.00V31.50" stroke="#4157b5" stroke-width="1.15" fill="none"/>
<path d="M400.04,31.98H403.54M401.79,30.23V33.73" stroke="#4157b5" stroke-width="1.15" fill="none"/>
<path d="M401.29,34.93H404.79M403.04,33.18V36.68" stroke="#4157b5" stroke-width="1.15" fill="none"/>
<path d="M402.33,37.95H405.83M404.08,36.20V39.70" stroke="#4157b5" stroke-width="1.15" fill="none"/>
<path d="M405.16,39.14H408.66M406.91,37.39V40.89" stroke="#4157b5" stroke-width="1.15" fill="none"/>
<path d="M407.80,40.75H411.30M409.55,39.00V42.50" stroke="#4157b5" stroke-width="1.15" fill="none"/>
<path d="M408.82,43.67H412.32M410.57,41.92V45.42" stroke="#4157b5" stroke-width="1.15" fill="none"/>
<path d="M410.43,46.38H413.93M412.18,44.63V48.13" stroke="#4157b5" stroke-width="1.15" fill="none"/>
<path d="M412.42,48.84H415.92M414.17,47.09V50.59" stroke="#4157b5" stroke-width="1.15" fill="none"/>
<path d="M414.09,51.55H417.59M415.84,49.80V53.30" stroke="#4157b5" stroke-width="1.15" fill="none"/>
<path d="M416.58,53.30H420.08M418.33,51.55V55.05" stroke="#4157b5" stroke-width="1.15" fill="none"/>
<path d="M419.68,53.78H423.18M421.43,52.03V55.53" stroke="#4157b5" stroke-width="1.15" fill="none"/>
<path d="M421.87,55.84H425.37M423.62,54.09V57.59" stroke="#4157b5" stroke-width="1.15" fill="none"/>
<path d="M423.94,58.15H427.44M425.69,56.40V59.90" stroke="#4157b5" stroke-width="1.15" fill="none"/>
<path d="M426.32,60.27H429.82M428.07,58.52V62.02" stroke="#4157b5" stroke-width="1.15" fill="none"/>
<path d="M428.84,62.17H432.34M430.59,60.42V63.92" stroke="#4157b5" stroke-width="1.15" fill="none"/>
<path d="M431.62,63.75H435.12M433.37,62.00V65.50" stroke="#4157b5" stroke-width="1.15" fill="none"/>
<path d="M434.57,64.88H438.07M436.32,63.13V66.63" stroke="#4157b5" stroke-width="1.15" fill="none"/>
<path d="M436.65,67.06H440.15M438.40,65.31V68.81" stroke="#4157b5" stroke-width="1.15" fill="none"/>
<path d="M438.40,69.73H441.90M440.15,67.98V71.48" stroke="#4157b5" stroke-width="1.15" fill="none"/>
<path d="M440.65,71.60H444.15M442.40,69.85V73.35" stroke="#4157b5" stroke-width="1.15" fill="none"/>
<path d="M443.85,71.60H447.35M445.60,69.85V73.35" stroke="#4157b5" stroke-width="1.15" fill="none"/>
<path d="M447.05,71.60H450.55M448.80,69.85V73.35" stroke="#4157b5" stroke-width="1.15" fill="none"/>
<path d="M450.05,71.80H453.55M451.80,70.05V73.55" stroke="#4157b5" stroke-width="1.15" fill="none"/>
<path d="M397.90,29.85H401.40M399.65,28.10V31.60" stroke="#4fc94a" stroke-width="1.15" fill="none"/>
<path d="M399.42,32.33H402.92M401.17,30.58V34.08" stroke="#4fc94a" stroke-width="1.15" fill="none"/>
<path d="M400.23,35.22H403.73M401.98,33.47V36.97" stroke="#4fc94a" stroke-width="1.15" fill="none"/>
<path d="M400.67,38.18H404.17M402.42,36.43V39.93" stroke="#4fc94a" stroke-width="1.15" fill="none"/>
<path d="M400.97,41.16H404.47M402.72,39.41V42.91" stroke="#4fc94a" stroke-width="1.15" fill="none"/>
<path d="M401.26,44.15H404.76M403.01,42.40V45.90" stroke="#4fc94a" stroke-width="1.15" fill="none"/>
<path d="M401.56,47.13H405.06M403.31,45.38V48.88" stroke="#4fc94a" stroke-width="1.15" fill="none"/>
<path d="M401.86,50.12H405.36M403.61,48.37V51.87" stroke="#4fc94a" stroke-width="1.15" fill="none"/>
<path d="M402.21,53.10H405.71M403.96,51.35V54.85" stroke="#4fc94a" stroke-width="1.15" fill="none"/>
<path d="M402.56,56.08H406.06M404.31,54.33V57.83" stroke="#4fc94a" stroke-width="1.15" fill="none"/>
<path d="M403.01,59.04H406.51M404.76,57.29V60.79" stroke="#4fc94a" stroke-width="1.15" fill="none"/>
<path d="M403.52,62.00H407.02M405.27,60.25V63.75" stroke="#4fc94a" stroke-width="1.15" fill="none"/>
<path d="M404.06,64.95H407.56M405.81,63.20V66.70" stroke="#4fc94a" stroke-width="1.15" fill="none"/>
<path d="M404.54,67.91H408.04M406.29,66.16V69.66" stroke="#4fc94a" stroke-width="1.15" fill="none"/>
<path d="M404.98,70.88H408.48M406.73,69.13V72.63" stroke="#4fc94a" stroke-width="1.15" fill="none"/>
<path d="M405.43,73.84H408.93M407.18,72.09V75.59" stroke="#4fc94a" stroke-width="1.15" fill="none"/>
<path d="M405.74,76.83H409.24M407.49,75.08V78.58" stroke="#4fc94a" stroke-width="1.15" fill="none"/>
<path d="M406.05,79.81H409.55M407.80,78.06V81.56" stroke="#4fc94a" stroke-width="1.15" fill="none"/>
<path d="M406.69,82.73H410.19M408.44,80.98V84.48" stroke="#4fc94a" stroke-width="1.15" fill="none"/>
<path d="M407.50,85.62H411.00M409.25,83.87V87.37" stroke="#4fc94a" stroke-width="1.15" fill="none"/>
<path d="M408.30,88.51H411.80M410.05,86.76V90.26" stroke="#4fc94a" stroke-width="1.15" fill="none"/>
<path d="M409.05,91.42H412.55M410.80,89.67V93.17" stroke="#4fc94a" stroke-width="1.15" fill="none"/>
<path d="M409.79,94.32H413.29M411.54,92.57V96.07" stroke="#4fc94a" stroke-width="1.15" fill="none"/>
<path d="M410.53,97.23H414.03M412.28,95.48V98.98" stroke="#4fc94a" stroke-width="1.15" fill="none"/>
<path d="M411.19,100.16H414.69M412.94,98.41V101.91" stroke="#4fc94a" stroke-width="1.15" fill="none"/>
<path d="M411.86,103.08H415.36M413.61,101.33V104.83" stroke="#4fc94a" stroke-width="1.15" fill="none"/>
<path d="M412.50,106.01H416.00M414.25,104.26V107.76" stroke="#4fc94a" stroke-width="1.15" fill="none"/>
<path d="M413.12,108.95H416.62M414.87,107.20V110.70" stroke="#4fc94a" stroke-width="1.15" fill="none"/>
<path d="M413.73,111.88H417.23M415.48,110.13V113.63" stroke="#4fc94a" stroke-width="1.15" fill="none"/>
<path d="M414.40,114.81H417.90M416.15,113.06V116.56" stroke="#4fc94a" stroke-width="1.15" fill="none"/>
<path d="M415.13,117.72H418.63M416.88,115.97V119.47" stroke="#4fc94a" stroke-width="1.15" fill="none"/>
<path d="M415.86,120.63H419.36M417.61,118.88V122.38" stroke="#4fc94a" stroke-width="1.15" fill="none"/>
<path d="M416.85,123.44H420.35M418.60,121.69V125.19" stroke="#4fc94a" stroke-width="1.15" fill="none"/>
<path d="M418.17,126.14H421.67M419.92,124.39V127.89" stroke="#4fc94a" stroke-width="1.15" fill="none"/>
<path d="M419.48,128.84H422.98M421.23,127.09V130.59" stroke="#4fc94a" stroke-width="1.15" fill="none"/>
<path d="M420.64,131.60H424.14M422.39,129.85V133.35" stroke="#4fc94a" stroke-width="1.15" fill="none"/>
<path d="M421.76,134.39H425.26M423.51,132.64V136.14" stroke="#4fc94a" stroke-width="1.15" fill="none"/>
<path d="M423.06,137.06H426.56M424.81,135.31V138.81" stroke="#4fc94a" stroke-width="1.15" fill="none"/>
<path d="M425.06,139.29H428.56M426.81,137.54V141.04" stroke="#4fc94a" stroke-width="1.15" fill="none"/>
<path d="M427.07,141.52H430.57M428.82,139.77V143.27" stroke="#4fc94a" stroke-width="1.15" fill="none"/>
<path d="M429.16,143.67H432.66M430.91,141.92V145.42" stroke="#4fc94a" stroke-width="1.15" fill="none"/>
<path d="M431.26,145.81H434.76M433.01,144.06V147.56" stroke="#4fc94a" stroke-width="1.15" fill="none"/>
<path d="M433.05,148.22H436.55M434.80,146.47V149.97" stroke="#4fc94a" stroke-width="1.15" fill="none"/>
<path d="M435.31,149.70H438.81M437.06,147.95V151.45" stroke="#4fc94a" stroke-width="1.15" fill="none"/>
<path d="M438.31,149.70H441.81M440.06,147.95V151.45" stroke="#4fc94a" stroke-width="1.15" fill="none"/>
<path d="M441.31,149.70H444.81M443.06,147.95V151.45" stroke="#4fc94a" stroke-width="1.15" fill="none"/>
<path d="M444.28,149.75H447.78M446.03,148.00V151.50" stroke="#4fc94a" stroke-width="1.15" fill="none"/>
<path d="M397.63,29.99H401.13M399.38,28.24V31.74" stroke="#eb9838" stroke-width="1.15" fill="none"/>
<path d="M398.55,35.42H402.05M400.30,33.67V37.17" stroke="#eb9838" stroke-width="1.15" fill="none"/>
<path d="M399.27,40.87H402.77M401.02,39.12V42.62" stroke="#eb9838" stroke-width="1.15" fill="none"/>
<path d="M400.80,46.12H404.30M402.55,44.37V47.87" stroke="#eb9838" stroke-width="1.15" fill="none"/>
<path d="M401.36,51.58H404.86M403.11,49.83V53.33" stroke="#eb9838" stroke-width="1.15" fill="none"/>
<path d="M401.56,57.08H405.06M403.31,55.33V58.83" stroke="#eb9838" stroke-width="1.15" fill="none"/>
<path d="M401.82,62.57H405.32M403.57,60.82V64.32" stroke="#eb9838" stroke-width="1.15" fill="none"/>
<path d="M403.11,67.88H406.61M404.86,66.13V69.63" stroke="#eb9838" stroke-width="1.15" fill="none"/>
<path d="M406.69,71.89H410.19M408.44,70.14V73.64" stroke="#eb9838" stroke-width="1.15" fill="none"/>
<path d="M407.88,77.17H411.38M409.63,75.42V78.92" stroke="#eb9838" stroke-width="1.15" fill="none"/>
<path d="M409.08,82.46H412.58M410.83,80.71V84.21" stroke="#eb9838" stroke-width="1.15" fill="none"/>
<path d="M410.60,87.70H414.10M412.35,85.95V89.45" stroke="#eb9838" stroke-width="1.15" fill="none"/>
<path d="M411.17,93.16H414.67M412.92,91.41V94.91" stroke="#eb9838" stroke-width="1.15" fill="none"/>
<path d="M411.93,98.44H415.43M413.68,96.69V100.19" stroke="#eb9838" stroke-width="1.15" fill="none"/>
<path d="M399.30,29.00 L399.70,36.00 L400.50,48.00 L401.30,60.00 L401.80,66.00 L402.30,74.00 L403.00,80.80 L403.80,91.50 L404.60,102.30 L405.50,110.00 L406.50,119.40 L408.60,130.90 L410.00,140.90 L412.90,148.10 L416.00,154.00 L418.00,157.50 L420.70,162.90 L423.60,164.40 L427.20,166.50 L430.10,168.00 L431.50,172.30 L435.10,173.00 L440.10,175.10 L442.30,177.30 L443.70,180.20 L446.60,183.80 L453.80,183.80" fill="none" stroke="#a82226" stroke-width="2.6" stroke-linejoin="round"/>
<path d="M397.58,29.50H401.08M399.33,27.75V31.25" stroke="#a82226" stroke-width="1.15" fill="none"/>
<path d="M397.75,32.49H401.25M399.50,30.74V34.24" stroke="#a82226" stroke-width="1.15" fill="none"/>
<path d="M397.92,35.49H401.42M399.67,33.74V37.24" stroke="#a82226" stroke-width="1.15" fill="none"/>
<path d="M398.12,38.48H401.62M399.87,36.73V40.23" stroke="#a82226" stroke-width="1.15" fill="none"/>
<path d="M398.32,41.48H401.82M400.07,39.73V43.23" stroke="#a82226" stroke-width="1.15" fill="none"/>
<path d="M398.51,44.47H402.01M400.26,42.72V46.22" stroke="#a82226" stroke-width="1.15" fill="none"/>
<path d="M398.71,47.46H402.21M400.46,45.71V49.21" stroke="#a82226" stroke-width="1.15" fill="none"/>
<path d="M398.91,50.46H402.41M400.66,48.71V52.21" stroke="#a82226" stroke-width="1.15" fill="none"/>
<path d="M399.11,53.45H402.61M400.86,51.70V55.20" stroke="#a82226" stroke-width="1.15" fill="none"/>
<path d="M399.31,56.44H402.81M401.06,54.69V58.19" stroke="#a82226" stroke-width="1.15" fill="none"/>
<path d="M399.51,59.44H403.01M401.26,57.69V61.19" stroke="#a82226" stroke-width="1.15" fill="none"/>
<path d="M399.75,62.43H403.25M401.50,60.68V64.18" stroke="#a82226" stroke-width="1.15" fill="none"/>
<path d="M400.00,65.42H403.50M401.75,63.67V67.17" stroke="#a82226" stroke-width="1.15" fill="none"/>
<path d="M400.20,68.41H403.70M401.95,66.66V70.16" stroke="#a82226" stroke-width="1.15" fill="none"/>
<path d="M400.39,71.40H403.89M402.14,69.65V73.15" stroke="#a82226" stroke-width="1.15" fill="none"/>
<path d="M400.59,74.40H404.09M402.34,72.65V76.15" stroke="#a82226" stroke-width="1.15" fill="none"/>
<path d="M400.90,77.38H404.40M402.65,75.63V79.13" stroke="#a82226" stroke-width="1.15" fill="none"/>
<path d="M401.21,80.37H404.71M402.96,78.62V82.12" stroke="#a82226" stroke-width="1.15" fill="none"/>
<path d="M401.44,83.36H404.94M403.19,81.61V85.11" stroke="#a82226" stroke-width="1.15" fill="none"/>
<path d="M401.66,86.35H405.16M403.41,84.60V88.10" stroke="#a82226" stroke-width="1.15" fill="none"/>
<path d="M401.89,89.34H405.39M403.64,87.59V91.09" stroke="#a82226" stroke-width="1.15" fill="none"/>
<path d="M402.11,92.33H405.61M403.86,90.58V94.08" stroke="#a82226" stroke-width="1.15" fill="none"/>
<path d="M402.33,95.32H405.83M404.08,93.57V97.07" stroke="#a82226" stroke-width="1.15" fill="none"/>
<path d="M402.55,98.31H406.05M404.30,96.56V100.06" stroke="#a82226" stroke-width="1.15" fill="none"/>
<path d="M402.78,101.31H406.28M404.53,99.56V103.06" stroke="#a82226" stroke-width="1.15" fill="none"/>
<path d="M403.08,104.29H406.58M404.83,102.54V106.04" stroke="#a82226" stroke-width="1.15" fill="none"/>
<path d="M403.43,107.27H406.93M405.18,105.52V109.02" stroke="#a82226" stroke-width="1.15" fill="none"/>
<path d="M403.78,110.25H407.28M405.53,108.50V112.00" stroke="#a82226" stroke-width="1.15" fill="none"/>
<path d="M404.09,113.23H407.59M405.84,111.48V114.98" stroke="#a82226" stroke-width="1.15" fill="none"/>
<path d="M404.41,116.22H407.91M406.16,114.47V117.97" stroke="#a82226" stroke-width="1.15" fill="none"/>
<path d="M404.73,119.20H408.23M406.48,117.45V120.95" stroke="#a82226" stroke-width="1.15" fill="none"/>
<path d="M405.25,122.15H408.75M407.00,120.40V123.90" stroke="#a82226" stroke-width="1.15" fill="none"/>
<path d="M405.79,125.10H409.29M407.54,123.35V126.85" stroke="#a82226" stroke-width="1.15" fill="none"/>
<path d="M406.33,128.05H409.83M408.08,126.30V129.80" stroke="#a82226" stroke-width="1.15" fill="none"/>
<path d="M406.86,131.01H410.36M408.61,129.26V132.76" stroke="#a82226" stroke-width="1.15" fill="none"/>
<path d="M407.28,133.98H410.78M409.03,132.23V135.73" stroke="#a82226" stroke-width="1.15" fill="none"/>
<path d="M407.70,136.95H411.20M409.45,135.20V138.70" stroke="#a82226" stroke-width="1.15" fill="none"/>
<path d="M408.11,139.92H411.61M409.86,138.17V141.67" stroke="#a82226" stroke-width="1.15" fill="none"/>
<path d="M409.00,142.76H412.50M410.75,141.01V144.51" stroke="#a82226" stroke-width="1.15" fill="none"/>
<path d="M410.12,145.55H413.62M411.87,143.80V147.30" stroke="#a82226" stroke-width="1.15" fill="none"/>
<path d="M411.27,148.32H414.77M413.02,146.57V150.07" stroke="#a82226" stroke-width="1.15" fill="none"/>
<path d="M412.66,150.98H416.16M414.41,149.23V152.73" stroke="#a82226" stroke-width="1.15" fill="none"/>
<path d="M414.06,153.63H417.56M415.81,151.88V155.38" stroke="#a82226" stroke-width="1.15" fill="none"/>
<path d="M415.53,156.24H419.03M417.28,154.49V157.99" stroke="#a82226" stroke-width="1.15" fill="none"/>
<path d="M416.94,158.89H420.44M418.69,157.14V160.64" stroke="#a82226" stroke-width="1.15" fill="none"/>
<path d="M418.29,161.57H421.79M420.04,159.82V163.32" stroke="#a82226" stroke-width="1.15" fill="none"/>
<path d="M420.30,163.60H423.80M422.05,161.85V165.35" stroke="#a82226" stroke-width="1.15" fill="none"/>
<path d="M422.93,165.03H426.43M424.68,163.28V166.78" stroke="#a82226" stroke-width="1.15" fill="none"/>
<path d="M425.52,166.54H429.02M427.27,164.79V168.29" stroke="#a82226" stroke-width="1.15" fill="none"/>
<path d="M428.19,167.92H431.69M429.94,166.17V169.67" stroke="#a82226" stroke-width="1.15" fill="none"/>
<path d="M429.22,170.68H432.72M430.97,168.93V172.43" stroke="#a82226" stroke-width="1.15" fill="none"/>
<path d="M431.02,172.55H434.52M432.77,170.80V174.30" stroke="#a82226" stroke-width="1.15" fill="none"/>
<path d="M433.93,173.24H437.43M435.68,171.49V174.99" stroke="#a82226" stroke-width="1.15" fill="none"/>
<path d="M436.69,174.40H440.19M438.44,172.65V176.15" stroke="#a82226" stroke-width="1.15" fill="none"/>
<path d="M439.20,175.95H442.70M440.95,174.20V177.70" stroke="#a82226" stroke-width="1.15" fill="none"/>
<path d="M441.03,178.28H444.53M442.78,176.53V180.03" stroke="#a82226" stroke-width="1.15" fill="none"/>
<path d="M442.50,180.88H446.00M444.25,179.13V182.63" stroke="#a82226" stroke-width="1.15" fill="none"/>
<path d="M444.38,183.22H447.88M446.13,181.47V184.97" stroke="#a82226" stroke-width="1.15" fill="none"/>
<path d="M447.10,183.80H450.60M448.85,182.05V185.55" stroke="#a82226" stroke-width="1.15" fill="none"/>
<path d="M450.10,183.80H453.60M451.85,182.05V185.55" stroke="#a82226" stroke-width="1.15" fill="none"/>
<rect x="1" y="284.3" width="17.8" height="5.2" fill="#1b2869"/>
<text class="t" x="27.4" y="291.7" font-size="10.3" font-weight="bold" fill="#111" stroke="#111" stroke-width="0.3" textLength="253.2" lengthAdjust="spacingAndGlyphs">No mutation, NK (n=155), Median LFS 218.6 months</text>
<rect x="1" y="309.9" width="17.8" height="5.2" fill="#3dbf58"/>
<text class="t" x="27.4" y="317" font-size="10.3" font-weight="bold" fill="#111" stroke="#111" stroke-width="0.3" textLength="267.5" lengthAdjust="spacingAndGlyphs">Gene mutations only (n=299), Median LFS 28.7 months</text>
<rect x="1" y="336" width="17.8" height="5.2" fill="#eec233"/>
<text class="t" x="27.4" y="343.9" font-size="10.3" font-weight="bold" fill="#111" stroke="#111" stroke-width="0.3" textLength="310.8" lengthAdjust="spacingAndGlyphs">Cytogenetic abnormalities only (n=62), Median LFS 48.1 months</text>
<rect x="1" y="362" width="17.8" height="5.2" fill="#c6201b"/>
<text class="t" x="27.4" y="370.5" font-size="10.3" font-weight="bold" fill="#111" stroke="#111" stroke-width="0.3" textLength="271.2" lengthAdjust="spacingAndGlyphs">Gene mutations and cytogenetic abnormalities (n=242),</text>
<text class="t" x="27.4" y="391.7" font-size="10.3" font-weight="bold" fill="#111" stroke="#111" stroke-width="0.3" textLength="118.8" lengthAdjust="spacingAndGlyphs">Median LFS 10.4 months</text>
<rect x="349.2" y="286.7" width="17.8" height="5.2" fill="#1b2869"/>
<text class="t" x="375.8" y="294.2" font-size="10.3" font-weight="bold" fill="#111" stroke="#111" stroke-width="0.3" textLength="251.2" lengthAdjust="spacingAndGlyphs">No mutation, NK (n=155), Median OS 250.7 months</text>
<rect x="349.2" y="312.3" width="17.8" height="5.2" fill="#3dbf58"/>
<text class="t" x="375.8" y="319.6" font-size="10.3" font-weight="bold" fill="#111" stroke="#111" stroke-width="0.3" textLength="265.5" lengthAdjust="spacingAndGlyphs">Gene mutations only (n=299), Median OS 37.1 months</text>
<rect x="349.2" y="339.1" width="17.8" height="5.2" fill="#eec233"/>
<text class="t" x="375.8" y="346.9" font-size="10.3" font-weight="bold" fill="#111" stroke="#111" stroke-width="0.3" textLength="308.8" lengthAdjust="spacingAndGlyphs">Cytogenetic abnormalities only (n=62), Median OS 48.2 months</text>
<rect x="349.2" y="364.5" width="17.8" height="5.2" fill="#c6201b"/>
<text class="t" x="375.8" y="373.6" font-size="10.3" font-weight="bold" fill="#111" stroke="#111" stroke-width="0.3" textLength="271.4" lengthAdjust="spacingAndGlyphs">Gene mutations and cytogenetic abnormalities (n=242),</text>
<text class="t" x="375.8" y="394.8" font-size="10.3" font-weight="bold" fill="#111" stroke="#111" stroke-width="0.3" textLength="117.3" lengthAdjust="spacingAndGlyphs">Median OS 16.0 months</text>
<text class="s" x="33.2" y="414.7" font-size="10.6" fill="#161616" stroke="#161616" stroke-width="0.1" textLength="373" lengthAdjust="spacingAndGlyphs">Abbreviation: NK, normal karyotype; LFS, leukemia-free survival; OS, overall survival</text>
</svg></body></html>
